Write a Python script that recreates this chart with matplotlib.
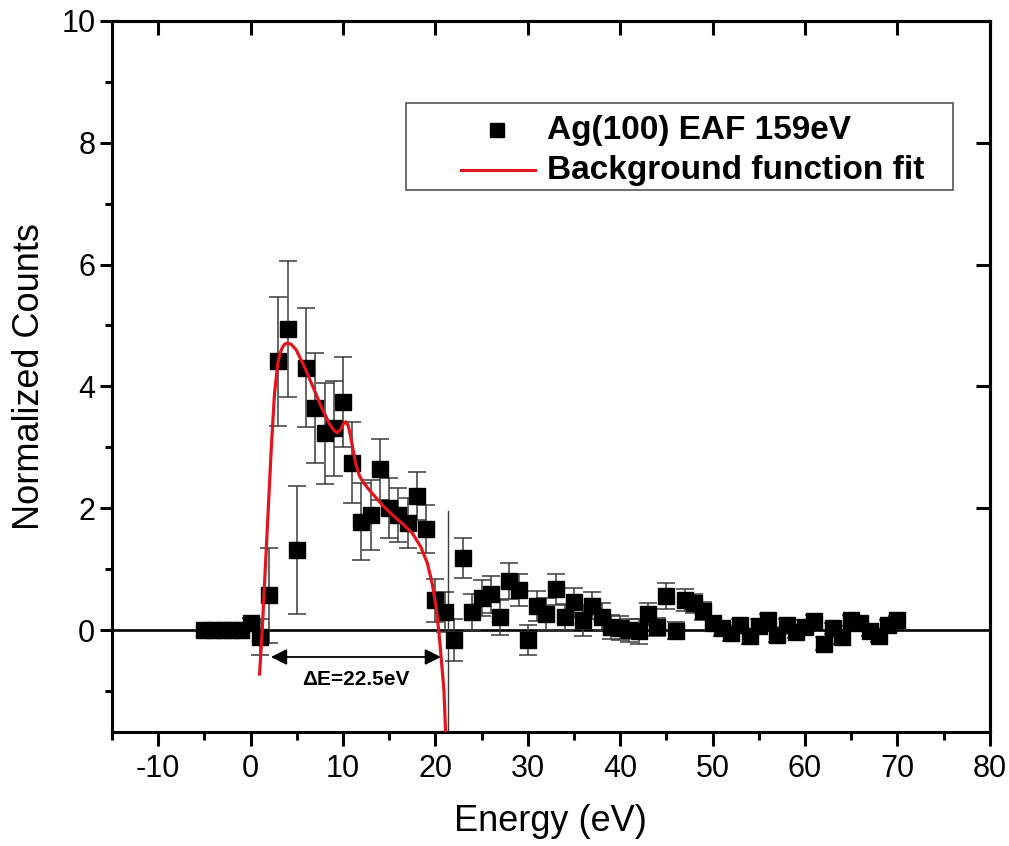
import matplotlib
matplotlib.use("Agg")
import matplotlib.pyplot as plt
from matplotlib.lines import Line2D
from matplotlib.patches import Rectangle

plt.rcParams['font.family'] = ['Liberation Sans', 'DejaVu Sans']
plt.rcParams['axes.unicode_minus'] = False

# ---- data ----
energy = [-5, -4, -3, -2, -1, 0, 1, 2, 3, 4, 5, 6, 7, 8, 9, 10, 11, 12, 13, 14,
          15, 16, 17, 18, 19, 20, 21, 22, 23, 24, 25, 26, 27, 28, 29, 30, 31, 32,
          33, 34, 35, 36, 37, 38, 39, 40, 41, 42, 43, 44, 45, 46, 47, 48, 49, 50,
          51, 52, 53, 54, 55, 56, 57, 58, 59, 60, 61, 62, 63, 64, 65, 66, 67, 68,
          69, 70]
counts = [0.0, 0.0, 0.0, 0.0, 0.0, 0.12, -0.11, 0.57, 4.41, 4.94, 1.31, 4.31, 3.64,
          3.23, 3.31, 3.75, 2.75, 1.78, 1.89, 2.64, 2.0, 1.89, 1.76, 2.2, 1.66, 0.49,
          0.3, -0.16, 1.19, 0.3, 0.53, 0.59, 0.21, 0.81, 0.66, -0.16, 0.4, 0.27, 0.67,
          0.21, 0.46, 0.16, 0.4, 0.22, 0.05, 0.04, 0.0, -0.02, 0.27, 0.05, 0.56, -0.01,
          0.5, 0.44, 0.32, 0.11, 0.03, -0.05, 0.08, -0.1, 0.07, 0.16, -0.08, 0.08,
          -0.03, 0.06, 0.15, -0.22, 0.03, -0.12, 0.16, 0.11, -0.01, -0.1, 0.08, 0.16]
errors = [0.0, 0.0, 0.0, 0.0, 0.0, 0.08, 0.3, 0.78, 1.06, 1.12, 1.05, 0.98, 0.9,
          0.83, 0.78, 0.74, 0.67, 0.63, 0.57, 0.5, 0.49, 0.44, 0.41, 0.4, 0.4, 0.35,
          0.33, 0.35, 0.33, 0.3, 0.29, 0.3, 0.29, 0.3, 0.27, 0.24, 0.25, 0.26, 0.25,
          0.22, 0.24, 0.25, 0.22, 0.22, 0.2, 0.2, 0.19, 0.2, 0.18, 0.15, 0.22, 0.14,
          0.18, 0.16, 0.15, 0.13, 0.12, 0.12, 0.11, 0.12, 0.11, 0.1, 0.11, 0.1, 0.1,
          0.1, 0.1, 0.1, 0.09, 0.1, 0.09, 0.09, 0.08, 0.09, 0.08, 0.08]

fit_x = [0.97, 1.22, 1.51, 1.87, 2.23, 2.59, 2.95, 3.2, 3.48, 3.75, 4.03, 4.4,
         4.93, 5.83, 6.73, 7.63, 8.52, 9.0, 9.35, 9.78, 10.05, 10.3, 10.55,
         10.8, 11.04, 11.4, 11.76, 12.12, 12.84, 13.19, 14.27, 15.35, 16.43,
         17.51, 18.41, 19.13, 19.67, 20.1, 20.39, 20.68, 20.93, 21.1, 21.15]
fit_y = [-0.72, -0.11, 0.77, 1.86, 2.96, 3.89, 4.38, 4.55, 4.65, 4.7, 4.71, 4.69,
         4.6, 4.32, 4.0, 3.67, 3.39, 3.28, 3.24, 3.3, 3.39, 3.42, 3.36,
         3.2, 3.0, 2.72, 2.54, 2.44, 2.30, 2.24, 2.05, 1.89, 1.75,
         1.59, 1.37, 1.10, 0.75, 0.35, -0.05, -0.55, -1.0, -1.67, -1.8]

cutoff_x = 21.4
cutoff_top = 1.95
arrow_start, arrow_end, arrow_y = 2.2, 20.6, -0.44
label_data = "Ag(100) EAF 159eV"
label_fit = "Background function fit"
delta_label = "ΔE=22.5eV"

RED = '#e3141b'
W, H = 1009, 846

# ---- figure ----
fig = plt.figure(figsize=(W / 100, H / 100), dpi=100)
ax = fig.add_axes([0.111, 0.1348, 0.870, 0.8407])
xmin, xmax, ymin, ymax = -15, 80, -1.67, 10
ax.set_xlim(xmin, xmax)
ax.set_ylim(ymin, ymax)

ax.axhline(0, color='black', lw=1.9, zorder=1)

ax.errorbar(energy, counts, yerr=errors, fmt='s', color='black', ms=11,
            ecolor='#3a3a3a', elinewidth=1.1, capsize=6.5, capthick=1.1, zorder=3)

ax.plot([cutoff_x, cutoff_x], [cutoff_top, ymin], color='#3a3a3a', lw=1.0, zorder=2)

ax.plot(fit_x, fit_y, color=RED, lw=2.3, zorder=4, clip_on=True,
        solid_joinstyle='round')

ax.annotate('', xy=(arrow_start, arrow_y), xytext=(arrow_end, arrow_y),
            arrowprops=dict(arrowstyle='<|-|>', color='black', lw=1.3,
                            mutation_scale=24, shrinkA=0, shrinkB=0))
ax.text((arrow_start + arrow_end) / 2, -0.81, delta_label, ha='center', va='center',
        fontsize=15, fontweight='bold')

for s in ax.spines.values():
    s.set_linewidth(2.2)

ax.set_xticks([-10, 0, 10, 20, 30, 40, 50, 60, 70, 80])
ax.set_xticks([-15, -5, 5, 15, 25, 35, 45, 55, 65, 75], minor=True)
ax.set_yticks([0, 2, 4, 6, 8, 10])
ax.set_yticks([-1, 1, 3, 5, 7, 9], minor=True)
ax.tick_params(axis='x', which='major', direction='out', length=10, width=2.2,
               labelsize=22, pad=6, top=False)
ax.tick_params(axis='x', which='minor', direction='out', length=6, width=2.2, top=False)
ax.tick_params(axis='y', which='major', direction='out', length=9, width=2.2,
               labelsize=22, pad=3, right=False)
ax.tick_params(axis='y', which='minor', direction='out', length=5, width=2.2, right=False)

sx = ax.secondary_xaxis('top')
sx.set_xticks([-10, 0, 10, 20, 30, 40, 50, 60, 70, 80])
sx.tick_params(direction='in', length=10, width=2.2, labeltop=False)
sx.spines['top'].set_linewidth(2.2)
sy = ax.secondary_yaxis('right')
sy.set_yticks([2, 4, 6, 8])
sy.tick_params(direction='in', length=10, width=2.2, labelright=False)
sy.spines['right'].set_linewidth(2.2)

ax.set_xlabel('Energy (eV)', fontsize=26, labelpad=14)
ax.set_ylabel('Normalized Counts', fontsize=26, labelpad=10)

# ---- legend (drawn in figure pixel coordinates) ----
def fx(px):
    return px / W

def fy(py):
    return 1 - py / H

fig.patches.append(Rectangle((fx(406), fy(190)), fx(953) - fx(406), fy(103) - fy(190),
                             transform=fig.transFigure, facecolor='white',
                             edgecolor='#555555', lw=1.2, zorder=10))
fig.lines.append(Line2D([fx(497)], [fy(130)], marker='s', color='black', ms=10,
                        ls='none', transform=fig.transFigure, zorder=11))
fig.lines.append(Line2D([fx(461), fx(535)], [fy(170), fy(170)], color=RED, lw=2.2,
                        transform=fig.transFigure, zorder=11))
fig.text(fx(547), fy(130), label_data, fontsize=24, fontweight='bold',
         ha='left', va='center', zorder=12)
fig.text(fx(547), fy(170), label_fit, fontsize=24, fontweight='bold',
         ha='left', va='center', zorder=12)

fig.savefig('out.png', dpi=100)
